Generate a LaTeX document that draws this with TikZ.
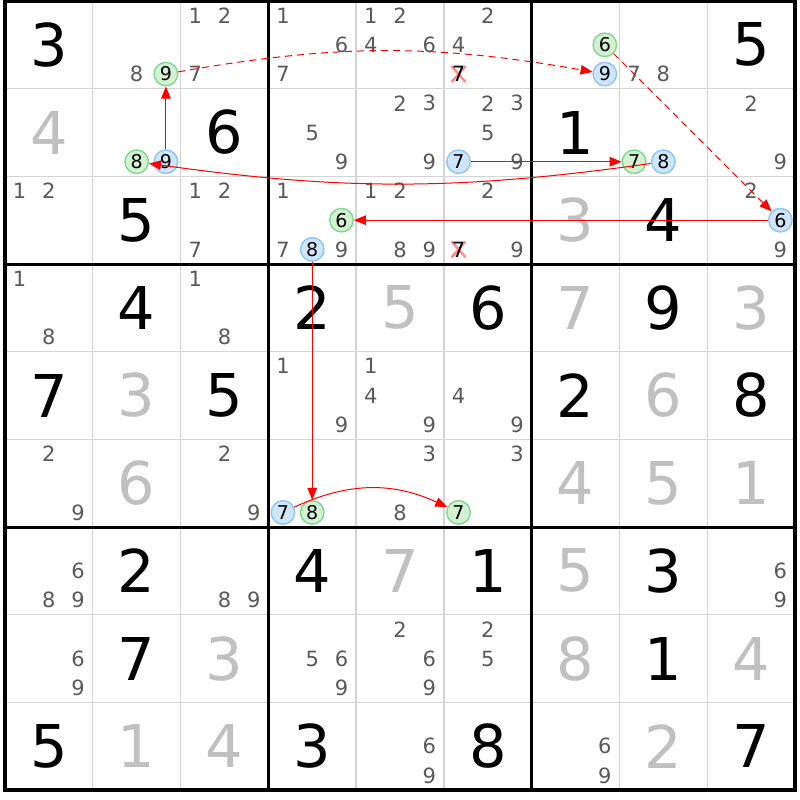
\documentclass[tikz,border=0pt]{standalone}
\usepackage{fontspec}
\setmainfont{DejaVu Sans}
\usetikzlibrary{arrows.meta}
\definecolor{candcol}{HTML}{5A5A5A}
\definecolor{solvcol}{HTML}{C0C0C0}
\definecolor{gridcol}{HTML}{D4D4D4}
\definecolor{gfill}{HTML}{D2F2D2}
\definecolor{gdraw}{HTML}{80D890}
\definecolor{bfill}{HTML}{CFE6FA}
\definecolor{bdraw}{HTML}{90C4F4}
\definecolor{xcol}{HTML}{FF8A8A}
\pgfdeclarelayer{bg}
\pgfsetlayers{bg,main}
\tikzset{
  given/.style={inner sep=0pt, text=black, font=\fontsize{59}{60}\selectfont},
  solved/.style={inner sep=0pt, text=solvcol, font=\fontsize{59}{60}\selectfont},
  cand/.style={inner sep=0pt, text=candcol, font=\fontsize{21}{22}\selectfont},
  greenc/.style={circle, draw=gdraw, fill=gfill, line width=1.4pt, minimum size=23.5pt, text=black, font=\fontsize{19}{20}\selectfont},
  bluec/.style={circle, draw=bdraw, fill=bfill, line width=1.4pt, minimum size=23.5pt, text=black, font=\fontsize{19}{20}\selectfont},
  elim/.style={text=black},
  thinline/.style={draw=gridcol, line width=1.3pt},
  boxline/.style={draw=black, line width=3pt},
  chain/.style={draw=red, line width=1pt, -{Triangle[length=12pt,width=9.5pt]}},
  weak/.style={dash pattern=on 7pt off 5pt},
  xmark/.style={draw=xcol, line width=2.4pt}
}
\newcommand\cellpos[2]{({5+(#2-0.5)*87.78},{1+(#1-0.5)*87.67})}
\newcommand\candpos[3]{({5+(#2-1)*87.78+(mod(#3-1,3)+0.5)*29.26},{1+(#1-1)*87.67+(int((#3-1)/3)+0.5)*29.22})}
\newcommand\Gv[3]{\node[given] (g-#1-#2) at \cellpos{#1}{#2} {#3};}
\newcommand\Sv[3]{\node[solved] (s-#1-#2) at \cellpos{#1}{#2} {#3};}
\newcommand\Cv[3]{\foreach \d in {#3}{\node[cand] (n-#1-#2-\d) at \candpos{#1}{#2}{\d} {\d};}}
\newcommand\Cx[4]{\node[cand,#4] (n-#1-#2-#3) at \candpos{#1}{#2}{#3} {#3};}
\newcommand\Xm[3]{\begin{pgfonlayer}{bg}\draw[xmark] \candpos{#1}{#2}{#3} ++(-7,-8) -- ++(14,16) \candpos{#1}{#2}{#3} ++(7,-8) -- ++(-14,16);\end{pgfonlayer}}
\begin{document}
\begin{tikzpicture}[x=1pt,y=-1pt]
\useasboundingbox (0,0) rectangle (800,800);
\begin{pgfonlayer}{bg}
\fill[white] (0,0) rectangle (800,800);
\end{pgfonlayer}
% thin grid lines
\foreach \i in {1,2,4,5,7,8}{
  \draw[thinline] ({5+\i*87.78},1) -- ({5+\i*87.78},790);
  \draw[thinline] (5,{1+\i*87.67}) -- (795,{1+\i*87.67});
}
\foreach \i in {3,6}{
  \draw[boxline] ({5+\i*87.78},1) -- ({5+\i*87.78},790);
  \draw[boxline] (5,{1+\i*87.67}) -- (795,{1+\i*87.67});
}
\draw[boxline, line width=3.4pt] (5,1.5) rectangle (795,790);
% givens
\Gv{1}{1}{3}\Gv{1}{9}{5}
\Gv{2}{3}{6}\Gv{2}{7}{1}
\Gv{3}{2}{5}\Gv{3}{8}{4}
\Gv{4}{2}{4}\Gv{4}{4}{2}\Gv{4}{6}{6}\Gv{4}{8}{9}
\Gv{5}{1}{7}\Gv{5}{3}{5}\Gv{5}{7}{2}\Gv{5}{9}{8}
\Gv{7}{2}{2}\Gv{7}{4}{4}\Gv{7}{6}{1}\Gv{7}{8}{3}
\Gv{8}{2}{7}\Gv{8}{8}{1}
\Gv{9}{1}{5}\Gv{9}{4}{3}\Gv{9}{6}{8}\Gv{9}{9}{7}
% solved
\Sv{2}{1}{4}\Sv{3}{7}{3}\Sv{4}{5}{5}\Sv{4}{7}{7}\Sv{4}{9}{3}
\Sv{5}{2}{3}\Sv{5}{8}{6}\Sv{6}{2}{6}\Sv{6}{7}{4}\Sv{6}{8}{5}\Sv{6}{9}{1}
\Sv{7}{5}{7}\Sv{7}{7}{5}\Sv{8}{3}{3}\Sv{8}{7}{8}\Sv{8}{9}{4}
\Sv{9}{2}{1}\Sv{9}{3}{4}\Sv{9}{8}{2}
% candidates
\Cv{1}{2}{8}\Cx{1}{2}{9}{greenc}
\Cv{1}{3}{1,2,7}
\Cv{1}{4}{1,6,7}
\Cv{1}{5}{1,2,4,6}
\Cv{1}{6}{2,4}\Xm{1}{6}{7}\Cx{1}{6}{7}{elim}
\Cx{1}{7}{6}{greenc}\Cx{1}{7}{9}{bluec}
\Cv{1}{8}{7,8}
\Cx{2}{2}{8}{greenc}\Cx{2}{2}{9}{bluec}
\Cv{2}{4}{5,9}
\Cv{2}{5}{2,3,9}
\Cv{2}{6}{2,3,5,9}\Cx{2}{6}{7}{bluec}
\Cx{2}{8}{7}{greenc}\Cx{2}{8}{8}{bluec}
\Cv{2}{9}{2,9}
\Cv{3}{1}{1,2}
\Cv{3}{3}{1,2,7}
\Cv{3}{4}{1,7,9}\Cx{3}{4}{6}{greenc}\Cx{3}{4}{8}{bluec}
\Cv{3}{5}{1,2,8,9}
\Cv{3}{6}{2,9}\Xm{3}{6}{7}\Cx{3}{6}{7}{elim}
\Cv{3}{9}{2,9}\Cx{3}{9}{6}{bluec}
\Cv{4}{1}{1,8}
\Cv{4}{3}{1,8}
\Cv{5}{4}{1,9}
\Cv{5}{5}{1,4,9}
\Cv{5}{6}{4,9}
\Cv{6}{1}{2,9}
\Cv{6}{3}{2,9}
\Cx{6}{4}{7}{bluec}\Cx{6}{4}{8}{greenc}
\Cv{6}{5}{3,8}
\Cv{6}{6}{3}\Cx{6}{6}{7}{greenc}
\Cv{7}{1}{6,8,9}
\Cv{7}{3}{8,9}
\Cv{7}{9}{6,9}
\Cv{8}{1}{6,9}
\Cv{8}{4}{5,6,9}
\Cv{8}{5}{2,6,9}
\Cv{8}{6}{2,5}
\Cv{9}{5}{6,9}
\Cv{9}{7}{6,9}
% chain
\draw[chain,weak] (n-1-2-9) to[bend left=10] (n-1-7-9);
\draw[chain,weak] (n-1-7-6) -- (n-3-9-6);
\draw[chain] (n-3-9-6) -- (n-3-4-6);
\draw[chain] (n-3-4-8) -- (n-6-4-8);
\draw[chain] (n-6-4-7) to[bend left=25] (n-6-6-7);
\draw[chain] (n-2-6-7) -- (n-2-8-7);
\draw[chain] (n-2-8-8) to[bend left=8] (n-2-2-8);
\draw[chain] (n-2-2-9) -- (n-1-2-9);
\end{tikzpicture}
\end{document}
